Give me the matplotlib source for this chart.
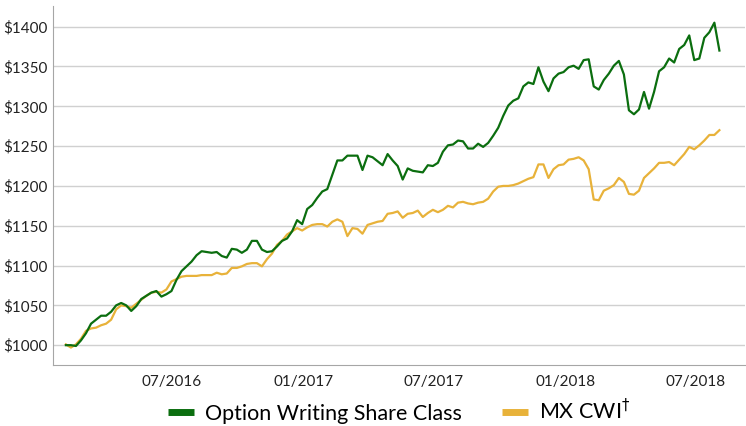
import matplotlib.pyplot as plt
import matplotlib.dates as mdates
import pandas as pd

# weekly values, Feb 2016 - Aug 2018
dates = pd.date_range("2016-02-05", periods=131, freq="7D")

option_writing = [
    1000, 1000, 999, 1006, 1015, 1027, 1032, 1037, 1037, 1042,
    1050, 1053, 1050, 1043, 1049, 1058, 1062, 1066, 1068, 1061,
    1064, 1068, 1082, 1093, 1099, 1105, 1113, 1118, 1117, 1116,
    1117, 1112, 1110, 1121, 1120, 1116, 1120, 1131, 1131, 1120,
    1117, 1118, 1124, 1131, 1134, 1143, 1157, 1152, 1171, 1176,
    1185, 1193, 1196, 1214, 1232, 1232, 1238, 1238, 1238, 1220,
    1238, 1236, 1231, 1226, 1240, 1232, 1225, 1208, 1222, 1219,
    1218, 1217, 1226, 1225, 1229, 1243, 1251, 1252, 1257, 1256,
    1247, 1247, 1253, 1249, 1254, 1263, 1273, 1288, 1301, 1307,
    1310, 1325, 1330, 1328, 1349, 1331, 1319, 1335, 1341, 1343,
    1349, 1351, 1347, 1358, 1359, 1325, 1321, 1333, 1341, 1351,
    1357, 1340, 1295, 1290, 1296, 1318, 1297, 1318, 1344, 1349,
    1360, 1355, 1372, 1377, 1389, 1358, 1360, 1386, 1393, 1405,
    1370,
]

mx_cwi = [
    1001, 997, 1001, 1008, 1018, 1021, 1022, 1025, 1027, 1032,
    1045, 1050, 1049, 1047, 1052, 1057, 1062, 1066, 1067, 1066,
    1070, 1080, 1083, 1086, 1087, 1087, 1087, 1088, 1088, 1088,
    1091, 1089, 1090, 1097, 1097, 1099, 1102, 1103, 1103, 1099,
    1108, 1115, 1126, 1131, 1139, 1143, 1147, 1144, 1148, 1151,
    1152, 1152, 1149, 1155, 1158, 1155, 1137, 1147, 1146, 1140,
    1151, 1153, 1155, 1156, 1165, 1166, 1168, 1160, 1165, 1166,
    1169, 1161, 1166, 1170, 1167, 1170, 1175, 1173, 1179, 1180,
    1178, 1177, 1179, 1180, 1184, 1193, 1199, 1200, 1200, 1201,
    1203, 1206, 1209, 1211, 1227, 1227, 1210, 1221, 1226, 1227,
    1233, 1234, 1236, 1232, 1221, 1183, 1182, 1194, 1197, 1201,
    1210, 1205, 1190, 1189, 1194, 1210, 1216, 1222, 1229, 1229,
    1230, 1226, 1233, 1240, 1249, 1246, 1251, 1257, 1264, 1264,
    1270,
]

tick_dates = pd.to_datetime(["2016-07-01", "2017-01-01", "2017-07-01", "2018-01-01", "2018-07-01"])
y_ticks = list(range(1000, 1401, 50))

plt.rcParams["font.family"] = ["Lato", "DejaVu Sans"]

fig = plt.figure(figsize=(7.46, 4.26), dpi=100)
ax = fig.add_axes([0.071, 0.143, 0.928, 0.843])

ax.plot(dates, option_writing, color="#0b6e0f", lw=1.6, label="Option Writing Share Class", zorder=3)
ax.plot(dates, mx_cwi, color="#e8b23a", lw=1.6, label=r"MX CWI$^{\dagger}$", zorder=2)

ax.set_ylim(975, 1426)
ax.set_xlim(pd.Timestamp("2016-01-18"), pd.Timestamp("2018-09-08"))
ax.set_yticks(y_ticks)
ax.yaxis.set_major_formatter(plt.FuncFormatter(lambda v, p: "\\$%d" % v))
ax.set_xticks(tick_dates)
ax.xaxis.set_major_formatter(mdates.DateFormatter("%m/%Y"))
ax.tick_params(length=0, labelsize=11, colors="#222222")
ax.tick_params(axis="x", pad=7)
ax.tick_params(axis="y", pad=4)

ax.grid(axis="y", color="#d0d0d0", lw=1)
ax.set_axisbelow(True)
for s in ["top", "right"]:
    ax.spines[s].set_visible(False)
for s in ["left", "bottom"]:
    ax.spines[s].set_color("#a6a6a6")

leg = fig.legend(loc="center", bbox_to_anchor=(0.535, 0.035), ncol=2, frameon=False,
                 fontsize=15.5, handlelength=1.2, handletextpad=0.5, columnspacing=1.9)
for h in leg.get_lines():
    h.set_linewidth(5)
    h.set_solid_capstyle("butt")

fig.savefig("out.png", dpi=100)
